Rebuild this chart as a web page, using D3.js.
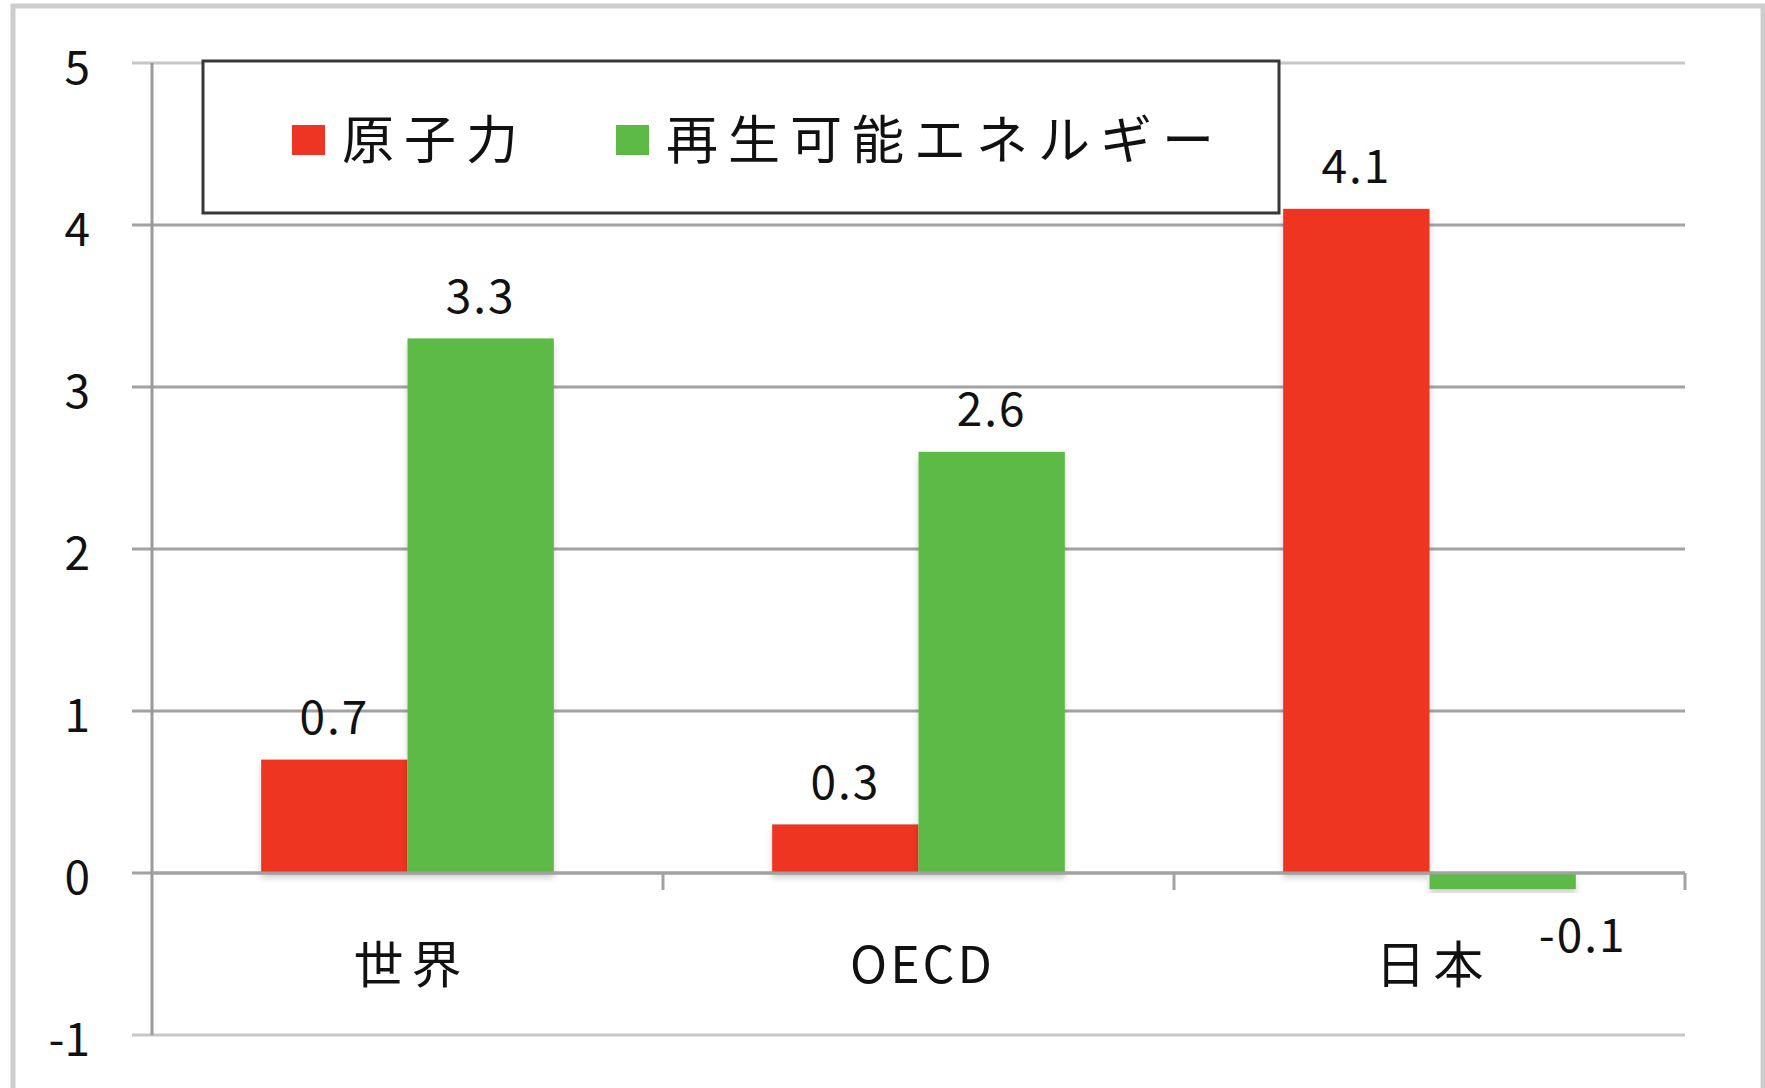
<!DOCTYPE html>
<html>
<head>
<meta charset="utf-8">
<script src="https://cdn.jsdelivr.net/npm/d3@7/dist/d3.min.js"></script>
<style>
  html, body { margin: 0; padding: 0; background: #fff; }
  svg { display: block; }
  text { font-family: "Noto Sans CJK JP", "Noto Sans", sans-serif; fill: #111; }
</style>
</head>
<body>
<svg id="chart" width="1765" height="1088"></svg>
<script>
// Growth rates by region (percent)
const categories = ["世界", "OECD", "日本"];
const seriesNames = ["原子力", "再生可能エネルギー"];
const nuclear = [0.7, 0.3, 4.1];
const renewables = [3.3, 2.6, -0.1];
const yTicks = [-1, 0, 1, 2, 3, 4, 5];
const colors = ["#ee3524", "#5dba47"];

const seriesValues = [nuclear, renewables];
const rows = categories.map((c, i) => ({
  cat: c,
  vals: seriesNames.map((s, j) => ({ key: s, value: seriesValues[j][i], idx: j }))
}));

const svg = d3.select("#chart");
const W = 1765, H = 1088;
const plot = { left: 152, right: 1685, top: 63, bottom: 1035 };
// plain hyphen-minus for negative numbers
const fmt = fmtStr => v => d3.format(fmtStr)(v).replace("\u2212", "-");

// outer frame
svg.append("rect")
  .attr("x", 13).attr("y", 6).attr("width", W - 15).attr("height", H + 20)
  .attr("fill", "#fff").attr("stroke", "#cdcdcd").attr("stroke-width", 5);

const defs = svg.append("defs");
const f = defs.append("filter").attr("id", "shadow")
  .attr("x", "-10%").attr("y", "-10%").attr("width", "120%").attr("height", "130%");
f.append("feDropShadow").attr("dx", 0).attr("dy", 5).attr("stdDeviation", 3)
  .attr("flood-color", "#000").attr("flood-opacity", 0.18);

const y = d3.scaleLinear().domain([-1, 5]).range([plot.bottom, plot.top]);
const x0 = d3.scaleBand().domain(categories).range([plot.left, plot.right])
  .paddingInner(0).paddingOuter(0);
const x1 = d3.scaleBand().domain(seriesNames).range([0, x0.bandwidth()])
  .paddingInner(0).paddingOuter(0.746);

// horizontal gridlines
svg.append("g").selectAll("line").data(yTicks).join("line")
  .attr("x1", plot.left - 20).attr("x2", plot.right)
  .attr("y1", d => y(d)).attr("y2", d => y(d))
  .attr("stroke", d => (d === 5 || d === -1) ? "#c6c6c6" : "#a2a2a2")
  .attr("stroke-width", 3);

// y axis
const yAxis = d3.axisLeft(y).tickValues(yTicks).tickSize(0).tickPadding(62)
  .tickFormat(fmt("d"));
const gy = svg.append("g").attr("transform", `translate(${plot.left},0)`).call(yAxis);
gy.select(".domain").remove();
gy.selectAll("text")
  .attr("dy", "0.45em")
  .style("font-size", "46px")
  .style("font-family", "'Noto Sans CJK JP', sans-serif")
  .attr("fill", "#111");
svg.append("line")
  .attr("x1", plot.left).attr("x2", plot.left)
  .attr("y1", plot.top).attr("y2", plot.bottom)
  .attr("stroke", "#9a9a9a").attr("stroke-width", 3);

// bars
const groups = svg.append("g").selectAll("g").data(rows).join("g")
  .attr("transform", d => `translate(${x0(d.cat)},0)`);

groups.selectAll("rect").data(d => d.vals).join("rect")
  .attr("x", d => x1(d.key))
  .attr("width", x1.bandwidth())
  .attr("y", d => y(Math.max(0, d.value)))
  .attr("height", d => Math.abs(y(d.value) - y(0)))
  .attr("fill", d => colors[d.idx])
  .attr("filter", "url(#shadow)");

// x axis line and category ticks
svg.append("line")
  .attr("x1", plot.left).attr("x2", plot.right)
  .attr("y1", y(0)).attr("y2", y(0))
  .attr("stroke", "#a2a2a2").attr("stroke-width", 3);
const xTickPos = categories.map(c => x0(c) + x0.bandwidth());
svg.append("g").selectAll("line").data(xTickPos).join("line")
  .attr("x1", d => d).attr("x2", d => d)
  .attr("y1", y(0)).attr("y2", y(0) + 17)
  .attr("stroke", "#a2a2a2").attr("stroke-width", 3);

// category labels
svg.append("g").selectAll("text").data(categories).join("text")
  .attr("x", d => x0(d) + x0.bandwidth() / 2 + 4)
  .attr("y", 965)
  .attr("dy", "0.35em")
  .attr("text-anchor", "middle")
  .style("font-size", "50px")
  .style("letter-spacing", d => /^[A-Z]+$/.test(d) ? "3px" : "8px")
  .text(d => d);

// value labels
groups.selectAll("text.val").data(d => d.vals).join("text")
  .attr("class", "val")
  .attr("x", d => x1(d.key) + x1.bandwidth() / 2 + (d.value < 0 ? 80 : 0))
  .attr("y", d => d.value >= 0 ? y(d.value) - 42 : y(d.value) + 47)
  .attr("dy", "0.35em")
  .attr("text-anchor", "middle")
  .style("font-size", "46px")
  .style("letter-spacing", "2px")
  .text(d => fmt(".1f")(d.value));

// legend
const lg = svg.append("g");
lg.append("rect")
  .attr("x", 203).attr("y", 61).attr("width", 1076).attr("height", 152)
  .attr("fill", "#fff").attr("stroke", "#383838").attr("stroke-width", 3);
const legendX = [292, 616];
const items = lg.selectAll("g").data(seriesNames).join("g")
  .attr("transform", (d, i) => `translate(${legendX[i]},125)`);
items.append("rect").attr("width", 33).attr("height", 30)
  .attr("fill", (d, i) => colors[i]);
items.append("text")
  .attr("x", 50).attr("y", 15).attr("dy", "0.36em")
  .style("font-size", "52px")
  .style("letter-spacing", "10px")
  .text(d => d);
</script>
</body>
</html>
